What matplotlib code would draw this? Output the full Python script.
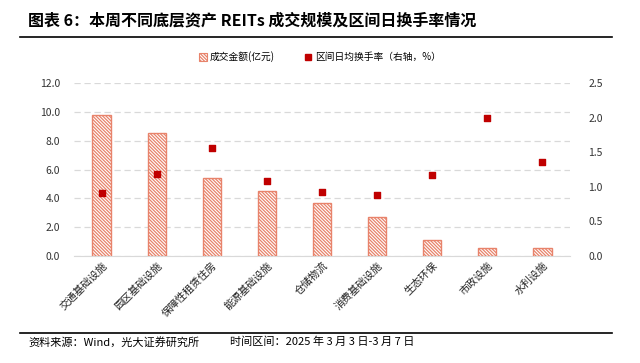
import matplotlib
matplotlib.use("Agg")
import matplotlib.pyplot as plt
from matplotlib.patches import Patch
from matplotlib.lines import Line2D

plt.rcParams['font.family'] = ['Noto Sans CJK SC', 'DejaVu Sans']
plt.rcParams['hatch.linewidth'] = 0.9

categories = ['交通基础设施', '园区基础设施', '保障性租赁住房', '能源基础设施', '仓储物流',
              '消费基础设施', '生态环保', '市政设施', '水利设施']
turnover_amount = [9.78, 8.55, 5.44, 4.49, 3.66, 2.72, 1.08, 0.58, 0.53]
turnover_rate = [0.915, 1.185, 1.565, 1.09, 0.925, 0.88, 1.17, 1.99, 1.354]
left_ticks = [0, 2, 4, 6, 8, 10, 12]
right_ticks = [0, 0.5, 1.0, 1.5, 2.0, 2.5]

bar_edge = '#E8836B'
point_color = '#C00000'
hatch = '\\' * 10

fig = plt.figure(figsize=(6.4, 3.63), dpi=100)
ax = fig.add_axes([74/640, 1-256/363, (570-74)/640, (256-83)/363])
ax2 = ax.twinx()

x = list(range(len(categories)))
ax.bar(x, turnover_amount, width=0.33, color='white', edgecolor=bar_edge,
       hatch=hatch, linewidth=1.0, zorder=3)
ax2.scatter(x, turnover_rate, marker='s', s=14, color=point_color, zorder=4)

ax.set_xlim(-0.5, len(categories) - 0.5)
ax.set_ylim(0, 12)
ax2.set_ylim(0, 2.5)
ax.set_yticks(left_ticks)
ax.set_yticklabels([f'{v:.1f}' for v in left_ticks], fontsize=7.5, color='#333333')
ax2.set_yticks(right_ticks)
ax2.set_yticklabels([f'{v:.1f}' for v in right_ticks], fontsize=7.5, color='#333333')
ax.set_xticks(x)
ax.set_xticklabels(categories, rotation=45, ha='right', rotation_mode='anchor',
                   fontsize=7.5, color='#222222')

ax.grid(axis='y', color='#D9D9D9', linestyle=(0, (5, 3)), linewidth=0.9, zorder=0)
for a in (ax, ax2):
    for s in a.spines.values():
        s.set_visible(False)
    a.tick_params(length=0)
ax.spines['bottom'].set_visible(True)
ax.spines['bottom'].set_color('#D9D9D9')
ax.tick_params(axis='y', pad=10)
ax2.tick_params(axis='y', pad=13)
ax.tick_params(axis='x', pad=3)
ax2.set_zorder(ax.get_zorder() + 1)

handles = [Patch(facecolor='white', edgecolor=bar_edge, hatch=hatch, linewidth=0.8),
           Line2D([], [], marker='s', linestyle='none', color=point_color, markersize=4)]
fig.legend(handles, ['成交金额(亿元)', '区间日均换手率（右轴，%）'],
           loc='center', bbox_to_anchor=(320/640, 1-57/363), ncol=2, frameon=False,
           fontsize=7, handlelength=0.8, handleheight=0.8, handletextpad=0.3,
           columnspacing=3.0)

fig.text(28/640, 1-20/363, '图表 6：本周不同底层资产 REITs 成交规模及区间日换手率情况',
         fontsize=11.5, fontweight='bold', va='center', ha='left', color='#000000')
fig.add_artist(Line2D([20/640, 612/640], [1-37/363, 1-37/363], color='black', linewidth=1.2))
fig.add_artist(Line2D([20/640, 612/640], [1-333/363, 1-333/363], color='black', linewidth=1.2))
fig.text(28/640, 1-342/363, '资料来源：Wind，光大证券研究所', fontsize=8, va='center',
         ha='left', color='#000000')
fig.text(230/640, 1-342/363, '时间区间：2025 年 3 月 3 日-3 月 7 日', fontsize=8,
         va='center', ha='left', color='#000000')

fig.savefig('out.png', dpi=100)
